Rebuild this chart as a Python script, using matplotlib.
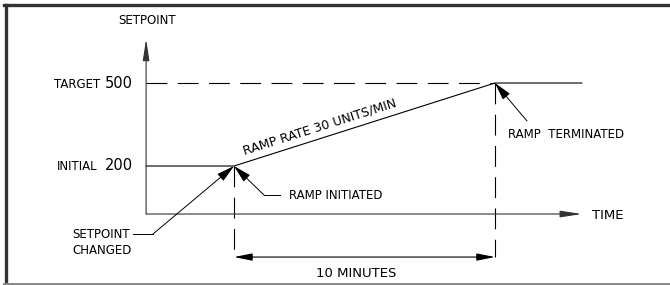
import math
import matplotlib
matplotlib.use("Agg")
import matplotlib.pyplot as plt
from matplotlib.lines import Line2D

# setpoint ramp values
initial_sp = 200
target_sp = 500
ramp_rate = 30                                        # units / min
ramp_minutes = (target_sp - initial_sp) / ramp_rate   # 10 min

# schematic time / setpoint positions of the diagram
t_change = 3.37      # minutes from the setpoint axis to the setpoint change
t_max = 16.7         # end of the time axis
sp_floor = 26.5      # level of the time axis
sp_top = 659         # tip of the setpoint axis
sp_dim = -129        # level of the "10 MINUTES" dimension line

t_end = t_change + ramp_minutes
trace_t = [0, t_change, t_end, t_max]
trace_sp = [initial_sp, initial_sp, target_sp, target_sp]

W, H = 670, 285
fig = plt.figure(figsize=(W / 100, H / 100), dpi=100)
ax = fig.add_axes([0, 0, 1, 1])
ax.set_xlim(-5.6, 20.08)
ax.set_ylim(-230, 800)
ax.axis("off")


def px(x, y):
    # image pixel (top-left origin) -> data coords
    return ax.transData.inverted().transform((x, H - y))


ink = "black"
axis_col = "#333333"
plt.rcParams["lines.scale_dashes"] = False
dash = (0, (15, 7.5))

# frame
fig.add_artist(Line2D([4 / W, 1], [1 - 4.5 / H, 1 - 4.5 / H], transform=fig.transFigure,
                      color="#333333", lw=2.4))
fig.add_artist(Line2D([5.5 / W, 5.5 / W], [1 - 4.5 / H, 1 / H], transform=fig.transFigure,
                      color="#333333", lw=2.4))
fig.add_artist(Line2D([4 / W, 1], [1.2 / H, 1.2 / H], transform=fig.transFigure,
                      color="#888888", lw=1.4))

# axes with arrows
ax.annotate("", xy=(0, sp_top), xytext=(0, sp_floor),
            arrowprops=dict(arrowstyle="-|>,head_length=1.3,head_width=0.2",
                            mutation_scale=10, lw=0.8, color=axis_col,
                            shrinkA=0, shrinkB=0))
ax.annotate("", xy=(t_max, sp_floor), xytext=(0, sp_floor),
            arrowprops=dict(arrowstyle="-|>,head_length=1.3,head_width=0.2",
                            mutation_scale=10, lw=0.8, color=axis_col,
                            shrinkA=0, shrinkB=0))

# setpoint trace
ax.plot(trace_t, trace_sp, color=ink, lw=0.8)
ax.plot([0, t_end], [target_sp, target_sp], color=ink, lw=0.8, linestyle=dash)

# vertical dashed lines and dimension line
ax.plot([t_change, t_change], [initial_sp, sp_dim], color=ink, lw=0.8, linestyle=dash)
ax.plot([t_end, t_end], [target_sp, sp_dim], color=ink, lw=0.8, linestyle=dash)
ax.annotate("", xy=(t_change, sp_dim), xytext=(t_end, sp_dim),
            arrowprops=dict(arrowstyle="<|-|>,head_length=1.1,head_width=0.22",
                            mutation_scale=10, lw=0.8, color=ink,
                            shrinkA=0, shrinkB=0))

# leader arrows
arrow_kw = dict(arrowstyle="-|>,head_length=1.1,head_width=0.28",
                mutation_scale=10, lw=0.7, color=ink, shrinkA=0, shrinkB=0)
ax.annotate("", xy=(t_change, initial_sp), xytext=px(153, 234), arrowprops=arrow_kw)
ax.plot(*zip(px(133, 234), px(153, 234)), color=ink, lw=0.7)
ax.annotate("", xy=(t_change, initial_sp), xytext=px(264, 195), arrowprops=arrow_kw)
ax.plot(*zip(px(264, 195), px(280, 195)), color=ink, lw=0.7)
ax.annotate("", xy=(t_end, target_sp), xytext=px(527, 121), arrowprops=arrow_kw)

# text
fs = 8.5
ax.text(*px(147, 24), "SETPOINT", ha="center", va="baseline", fontsize=fs)
ax.text(*px(100, 88), "TARGET", ha="right", va="baseline", fontsize=fs)
ax.text(*px(133, 88), str(target_sp), ha="right", va="baseline", fontsize=10.5)
ax.text(*px(97, 170), "INITIAL", ha="right", va="baseline", fontsize=fs)
ax.text(*px(133, 170), str(initial_sp), ha="right", va="baseline", fontsize=10.5)
ax.text(*px(72, 238), "SETPOINT", ha="left", va="baseline", fontsize=fs)
ax.text(*px(72, 254), "CHANGED", ha="left", va="baseline", fontsize=fs)
ax.text(*px(289, 199), "RAMP INITIATED", ha="left", va="baseline", fontsize=fs)
ax.text(*px(508, 138), "RAMP  TERMINATED", ha="left", va="baseline", fontsize=fs)
ax.text(*px(592, 219), "TIME", ha="left", va="baseline", fontsize=9.5)
ax.text(*px(356, 277), f"{ramp_minutes:.0f} MINUTES", ha="center", va="baseline", fontsize=9.5)

p0 = ax.transData.transform((t_change, initial_sp))
p1 = ax.transData.transform((t_end, target_sp))
angle = math.degrees(math.atan2(p1[1] - p0[1], p1[0] - p0[0]))
ax.text(*px(245, 155), f"RAMP RATE {ramp_rate} UNITS/MIN", ha="left", va="baseline",
        rotation=angle, rotation_mode="anchor", fontsize=9)

fig.savefig("out.png", dpi=100)
